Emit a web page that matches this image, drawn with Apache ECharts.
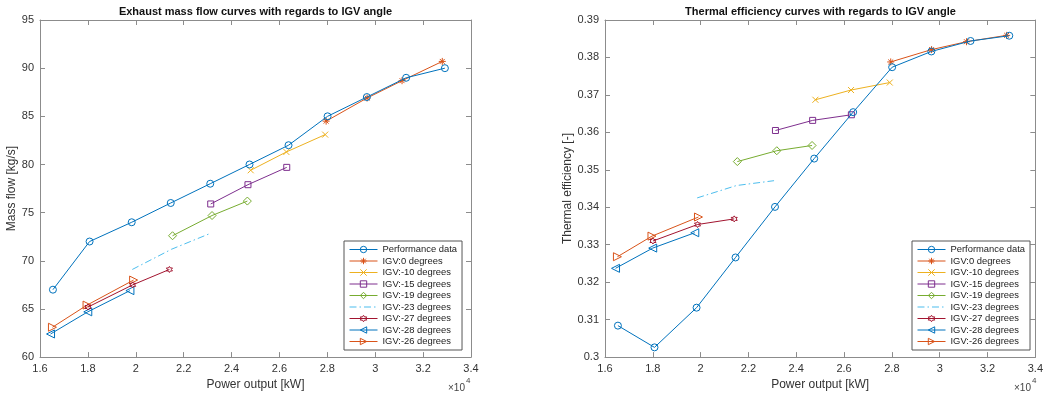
<!DOCTYPE html>
<html><head><meta charset="utf-8">
<script src="https://cdn.jsdelivr.net/npm/echarts@6/dist/echarts.min.js"></script>
<style>html,body{margin:0;padding:0;background:#fff}#c{width:1046px;height:396px}</style>
</head><body><div id="c"></div>
<script>
// ---- data (power in kW) ----
const seriesNames = ['Performance data','IGV:0 degrees','IGV:-10 degrees','IGV:-15 degrees','IGV:-19 degrees','IGV:-23 degrees','IGV:-27 degrees','IGV:-28 degrees','IGV:-26 degrees'];

const perfPower = [16540, 18070, 19830, 21460, 23110, 24750, 26380, 28010, 29650, 31290, 32910];
const perfFlow  = [67, 72, 74, 76, 78, 80, 82, 85, 87, 89, 90];
const perfEff   = [0.3084, 0.3026, 0.3132, 0.3266, 0.3401, 0.3530, 0.3654, 0.3774, 0.3816, 0.3844, 0.3858];

const igv0Power = [27950, 29660, 31120, 32800];
const igv0Flow  = [84.5, 86.9, 88.7, 90.7];
const igv0Eff   = [0.3788, 0.3821, 0.3842, 0.3859];

const igv10Power = [24800, 26290, 27910];
const igv10Flow  = [79.4, 81.3, 83.1];
const igv10Eff   = [0.3687, 0.3713, 0.3733];

const igv15Power = [23130, 24685, 26305];
const igv15Flow  = [75.9, 77.9, 79.7];
const igv15Eff   = [0.3605, 0.3632, 0.3647];

const igv19Power = [21535, 23185, 24660];
const igv19Flow  = [72.6, 74.7, 76.2];
const igv19Eff   = [0.3522, 0.3551, 0.3565];

const igv23Power = [19855, 21495, 23070];
const igv23Flow  = [69.1, 71.2, 72.8];
const igv23Eff   = [0.3425, 0.3458, 0.3471];

const igv27Power = [18005, 19870, 21405];
const igv27Flow  = [65.2, 67.5, 69.1];
const igv27Eff   = [0.3310, 0.3354, 0.3369];

const igv28Power = [16440, 17995, 19755];
const igv28Flow  = [62.4, 64.7, 66.9];
const igv28Eff   = [0.3237, 0.3291, 0.3332];

const igv26Power = [16520, 17965, 19910];
const igv26Flow  = [63.1, 65.4, 68.0];
const igv26Eff   = [0.3268, 0.3323, 0.3374];

const powers = [perfPower, igv0Power, igv10Power, igv15Power, igv19Power, igv23Power, igv27Power, igv28Power, igv26Power];
const flows  = [perfFlow, igv0Flow, igv10Flow, igv15Flow, igv19Flow, igv23Flow, igv27Flow, igv28Flow, igv26Flow];
const effs   = [perfEff, igv0Eff, igv10Eff, igv15Eff, igv19Eff, igv23Eff, igv27Eff, igv28Eff, igv26Eff];

// ---- styles ----
const colors = ['#0072BD','#D95319','#EDB120','#7E2F8E','#77AC30','#4DBEEE','#A2142F','#0072BD','#D95319'];
const P_AST = 'path://M5,0 L5,10 M0,5 L10,5 M1.5,1.5 L8.5,8.5 M1.5,8.5 L8.5,1.5';
const P_X = 'path://M0,0 L10,10 M0,10 L10,0';
const P_HEX = 'path://M5,0 L6.443,2.5 L9.33,2.5 L7.887,5 L9.33,7.5 L6.443,7.5 L5,10 L3.557,7.5 L0.67,7.5 L2.113,5 L0.67,2.5 L3.557,2.5 Z';
const P_LT = 'path://M0,5 L9,0 L9,10 Z';
const P_RT = 'path://M9,5 L0,0 L0,10 Z';
const P_DASHDOT = 'path://M0,0 h7 v1 h-7 Z M10,0 h1.5 v1 h-1.5 Z M14.5,0 h7 v1 h-7 Z M24.5,0 h1.5 v1 h-1.5 Z M28,0 h0.01 v1 h-0.01 Z';
const symbols = ['circle', P_AST, P_X, 'rect', 'diamond', 'none', P_HEX, P_LT, P_RT];
const sizes = [7, 7, 6, 6, 8, 0, 6, 8, 8];

function buildSeries(vals, xi, yi) {
  return seriesNames.map((n, i) => ({
    name: n, type: 'line', xAxisIndex: xi, yAxisIndex: yi,
    data: powers[i].map((p, k) => [p, vals[i][k]]),
    symbol: symbols[i], symbolSize: sizes[i], showSymbol: symbols[i] !== 'none',
    itemStyle: {color: 'rgba(255,255,255,0)', borderColor: colors[i], borderWidth: 1},
    lineStyle: {color: colors[i], width: 1, type: i === 5 ? [7, 3, 1.5, 3] : 'solid'},
    emphasis: {disabled: true}, animation: false, z: 10 - i
  }));
}

const axisCol = '#8c8c8c';
const lblStyle = {fontSize: 11, color: '#333', fontFamily: 'Liberation Sans'};
function xAx(g, bottom) {
  return {
    type: 'value', gridIndex: g, position: bottom ? 'bottom' : 'top',
    min: 16000, max: 34000, interval: 2000,
    axisLine: {show: true, lineStyle: {color: axisCol}},
    axisTick: {show: true, inside: true, length: 5, lineStyle: {color: axisCol}},
    axisLabel: bottom ? Object.assign({show: true, margin: 6, formatter: v => String(+(v / 10000).toFixed(2))}, lblStyle) : {show: false},
    splitLine: {show: false},
    name: bottom ? 'Power output [kW]' : '', nameLocation: 'middle', nameGap: 15,
    nameTextStyle: {fontSize: 12, color: '#333', fontFamily: 'Liberation Sans'}
  };
}
function yAx(g, left, min, max, itv, name, gap, fmt) {
  return {
    type: 'value', gridIndex: g, position: left ? 'left' : 'right',
    min: min, max: max, interval: itv,
    axisLine: {show: true, lineStyle: {color: axisCol}},
    axisTick: {show: true, inside: true, length: 5, lineStyle: {color: axisCol}},
    axisLabel: left ? Object.assign({show: true, margin: 6, formatter: fmt}, lblStyle) : {show: false},
    splitLine: {show: false},
    name: left ? name : '', nameLocation: 'middle', nameGap: gap,
    nameTextStyle: {fontSize: 12, color: '#333', fontFamily: 'Liberation Sans'}
  };
}

function legend(left) {
  return {
    data: seriesNames.map((n, i) => i === 5
      ? {name: n, icon: P_DASHDOT, itemStyle: {color: colors[i], borderWidth: 0}}
      : {name: n}),
    orient: 'vertical', left: left, top: 241,
    itemWidth: 28, itemHeight: 8, itemGap: 0.5, symbolKeepAspect: true,
    padding: [3, 5, 3, 5], borderColor: '#555', borderWidth: 1, backgroundColor: '#fff',
    itemStyle: {color: 'rgba(255,255,255,0)', borderColor: 'inherit', borderWidth: 1},
    lineStyle: {width: 1},
    textStyle: {fontSize: 9.4, lineHeight: 11, color: '#222', fontFamily: 'Liberation Sans', padding: 0},
    selectedMode: false
  };
}

const chart = echarts.init(document.getElementById('c'), null, {renderer: 'canvas'});
chart.setOption({
  animation: false,
  backgroundColor: '#fff',
  grid: [
    {left: 40, top: 20, width: 431, height: 341},
    {left: 605, top: 20, width: 431, height: 341}
  ],
  xAxis: [xAx(0, true), xAx(0, false), xAx(1, true), xAx(1, false)],
  yAxis: [
    yAx(0, true, 60, 95, 5, 'Mass flow [kg/s]', 19, v => String(v)),
    yAx(0, false, 60, 95, 5),
    yAx(1, true, 0.30, 0.39, 0.01, 'Thermal efficiency [-]', 25, v => String(+v.toFixed(2))),
    yAx(1, false, 0.30, 0.39, 0.01)
  ],
  legend: [legend(344), legend(912)],
  series: buildSeries(flows, 0, 0).concat(buildSeries(effs, 2, 2)),
  graphic: [
    {type: 'text', x: 255.5, y: 12, style: {text: 'Exhaust mass flow curves with regards to IGV angle', fontSize: 11, fontWeight: 'bold', fill: '#111', fontFamily: 'Liberation Sans', textAlign: 'center', textVerticalAlign: 'middle'}},
    {type: 'text', x: 820.5, y: 12, style: {text: 'Thermal efficiency curves with regards to IGV angle', fontSize: 11, fontWeight: 'bold', fill: '#111', fontFamily: 'Liberation Sans', textAlign: 'center', textVerticalAlign: 'middle'}},
    {type: 'text', x: 448, y: 388, style: {text: '×10', fontSize: 10, fill: '#444', fontFamily: 'Liberation Sans', textVerticalAlign: 'middle'}},
    {type: 'text', x: 466, y: 381, style: {text: '4', fontSize: 8, fill: '#444', fontFamily: 'Liberation Sans', textVerticalAlign: 'middle'}},
    {type: 'text', x: 1014, y: 388, style: {text: '×10', fontSize: 10, fill: '#444', fontFamily: 'Liberation Sans', textVerticalAlign: 'middle'}},
    {type: 'text', x: 1032, y: 381, style: {text: '4', fontSize: 8, fill: '#444', fontFamily: 'Liberation Sans', textVerticalAlign: 'middle'}}
  ]
});
</script></body></html>
